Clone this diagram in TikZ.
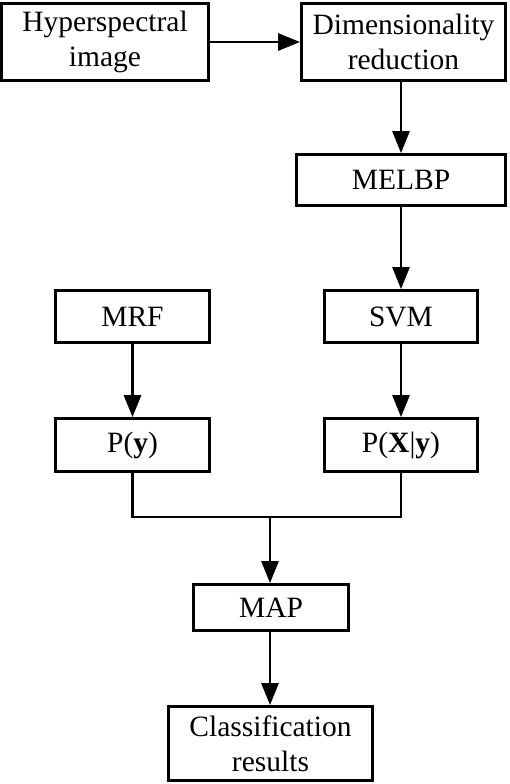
\documentclass[tikz,border=0pt]{standalone}
\usepackage{fontspec}
\setmainfont{Liberation Serif}
\usetikzlibrary{arrows.meta}
\begin{document}
\begin{tikzpicture}[x=1pt,y=-1pt,
  box/.style={draw,line width=2.8pt,inner sep=0pt,align=center,
    font=\fontsize{29.5}{35}\selectfont},
  conn/.style={line width=2.8pt},
  arr/.style={conn,-{Triangle[length=22pt,width=17pt]}}]
\useasboundingbox (0,0) rectangle (510,784);
\node[box,minimum width=207pt,minimum height=77pt] (hyp) at (105,42) {Hyperspectral\\image};
\node[box,minimum width=204pt,minimum height=77pt] (dim) at (403.5,42) {Dimensionality\\reduction};
\node[box,minimum width=209pt,minimum height=51pt] (melbp) at (401,180) {MELBP};
\node[box,minimum width=154pt,minimum height=52pt] (mrf) at (132.5,316.5) {MRF};
\node[box,minimum width=153pt,minimum height=52pt] (svm) at (401,316.5) {SVM};
\node[box,minimum width=154pt,minimum height=53pt] (py) at (132.5,445) {P(\textbf{y})};
\node[box,minimum width=153pt,minimum height=53pt] (pxy) at (401,445) {P(\textbf{X}|\textbf{y})};
\node[box,minimum width=155pt,minimum height=46pt] (map) at (271,607.5) {MAP};
\node[box,minimum width=204pt,minimum height=74pt] (cls) at (270.5,743.5) {Classification\\results};
\coordinate (m) at (270,517);
\draw[arr] (hyp.east) -- (dim.west);
\draw[arr] (melbp.north |- dim.south) -- (melbp.north);
\draw[arr] (melbp.south) -- (svm.north);
\draw[arr] (mrf.south) -- (py.north);
\draw[arr] (svm.south) -- (pxy.north);
\draw[conn] (py.south) |- (m) -| (pxy.south);
\draw[arr] (m) -- (m |- map.north);
\draw[arr] (m |- map.south) -- (m |- cls.north);
\end{tikzpicture}
\end{document}
